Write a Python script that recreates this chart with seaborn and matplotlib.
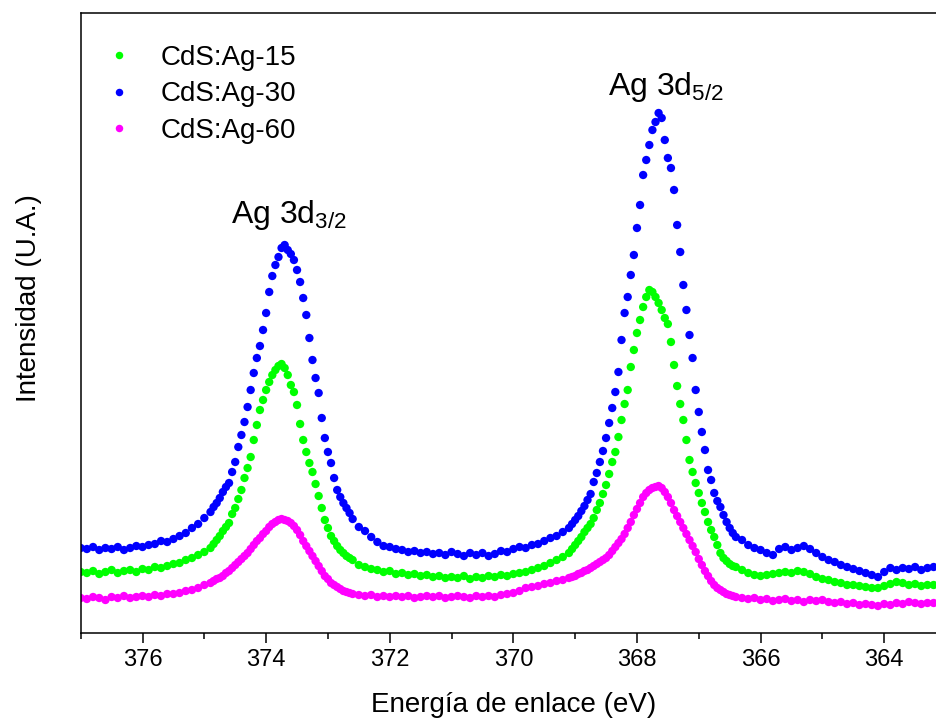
import numpy as np
import pandas as pd
import matplotlib
matplotlib.use("Agg")
import matplotlib.pyplot as plt
import seaborn as sns

# Binding energy grid (eV): coarser in flat regions, finer across the peaks
energy = np.round(np.concatenate([
    np.arange(377.0, 374.85, -0.1),
    np.arange(374.85, 372.625, -0.05),
    np.arange(372.6, 369.05, -0.1),
    np.arange(369.05, 366.425, -0.05),
    np.arange(366.4, 363.15, -0.1),
]), 2)

ag15 = [61, 60, 62, 59, 61, 63, 60, 62, 63, 61, 64, 63, 66, 65, 67, 69, 70, 73, 75, 78, 81, 85,
        89, 93, 97, 102, 106, 110, 119, 125, 134, 143, 155, 165, 176, 193, 208, 223, 233, 243, 251, 258,
        263, 267, 269, 265, 258, 248, 241, 228, 209, 193, 181, 170, 161, 149, 137, 125, 113, 105, 97, 92,
        87, 83, 80, 77, 75,
        73, 68, 66, 64, 63, 61, 62, 59, 60, 58, 59, 57, 58, 56, 57, 55, 56, 55, 57, 54, 56, 55, 57, 56,
        58, 57, 59, 60, 61, 63, 65, 67, 70, 73, 76, 80,
        84, 88, 92, 96, 101, 105, 109, 115, 123, 130, 139, 148, 159, 171, 181, 196, 213, 229, 243, 266,
        283, 300, 313, 326, 336, 343, 341, 336, 330, 323, 315, 309, 291, 268, 247, 229, 213, 193, 173, 161,
        150, 140, 130, 121, 111, 103, 96, 88, 80, 75, 72, 69, 67,
        66, 63, 60, 58, 57, 58, 59, 60, 61, 60, 62, 61, 59, 56, 54, 53, 51, 50, 48, 48, 47, 46, 45, 45,
        47, 49, 51, 50, 48, 49, 47, 48, 48]

ag30 = [85, 84, 86, 83, 85, 84, 86, 83, 85, 87, 86, 88, 89, 92, 91, 94, 97, 100, 105, 109, 115, 121,
        126, 130, 135, 141, 146, 150, 161, 171, 186, 198, 211, 226, 243, 260, 275, 287, 303, 320, 341, 357,
        368, 376, 385, 388, 383, 379, 373, 363, 351, 335, 318, 295, 273, 255, 240, 215, 195, 181, 170, 155,
        143, 136, 130, 125, 120,
        114, 106, 102, 96, 91, 87, 86, 84, 83, 81, 82, 80, 81, 79, 80, 78, 81, 79, 77, 80, 78, 80, 77, 79,
        82, 81, 84, 86, 85, 88, 89, 92, 95, 97, 101, 105,
        109, 113, 117, 122, 127, 133, 139, 151, 160, 171, 182, 195, 210, 225, 241, 261, 293, 320, 336, 358,
        378, 405, 428, 458, 473, 488, 503, 511, 520, 515, 493, 475, 465, 443, 408, 381, 348, 323, 298, 275,
        243, 221, 201, 183, 163, 153, 140, 132, 126, 118, 111, 105, 100,
        96, 93, 88, 85, 83, 80, 78, 84, 86, 83, 85, 87, 84, 80, 76, 73, 71, 68, 66, 64, 62, 60, 58, 56,
        61, 65, 63, 65, 64, 66, 63, 65, 66]

ag60 = [35, 34, 36, 35, 33, 36, 35, 37, 35, 36, 37, 36, 38, 37, 39, 39, 40, 42, 43, 45, 48, 50,
        52, 54, 55, 57, 60, 62, 65, 68, 71, 74, 77, 80, 84, 88, 92, 95, 99, 102, 106, 109,
        111, 113, 114, 113, 112, 110, 107, 103, 98, 92, 87, 82, 77, 72, 67, 62, 57, 54, 50, 48,
        46, 44, 42, 41, 40,
        39, 38, 37, 38, 36, 37, 36, 37, 36, 37, 35, 36, 37, 36, 37, 35, 36, 37, 36, 35, 37, 36, 37, 36,
        38, 39, 40, 42, 45, 46, 47, 49, 50, 52, 53, 55,
        56, 57, 59, 60, 62, 63, 65, 67, 69, 71, 73, 75, 78, 82, 86, 90, 94, 99, 105, 111,
        118, 124, 130, 136, 140, 143, 145, 146, 147, 145, 141, 136, 130, 123, 117, 111, 105, 99, 93, 87,
        81, 74, 68, 62, 57, 52, 48, 45, 43, 41, 39, 38, 37,
        36, 35, 34, 35, 33, 34, 32, 33, 34, 32, 33, 31, 33, 32, 33, 31, 30, 31, 29, 30, 28, 29, 28, 27,
        29, 28, 30, 29, 31, 30, 29, 30, 30]

labels = ["CdS:Ag-15", "CdS:Ag-30", "CdS:Ag-60"]
colors = ["#00ff00", "#0000ff", "#ff00ff"]

assert len(energy) == len(ag15) == len(ag30) == len(ag60)

df = pd.concat([
    pd.DataFrame({"energy": energy, "intensity": vals, "sample": lab})
    for vals, lab in zip([ag15, ag30, ag60], labels)
], ignore_index=True)

sns.set_style("white")
plt.rcParams["font.family"] = ["Liberation Sans", "DejaVu Sans"]
plt.rcParams["mathtext.fontset"] = "custom"
plt.rcParams["mathtext.rm"] = "Liberation Sans"
plt.rcParams["mathtext.it"] = "Liberation Sans:italic"
plt.rcParams["text.color"] = "black"
plt.rcParams["axes.labelcolor"] = "black"
plt.rcParams["xtick.color"] = "black"
plt.rcParams["ytick.color"] = "black"

fig = plt.figure(figsize=(9.36, 7.21), dpi=100)
W, H = 936, 721
left_px, right_px, top_px, bot_px = 80.7, 946.0, 13.0, 633.0
ax_w = right_px - left_px
ax_h = bot_px - top_px
ax = fig.add_axes([left_px / W, 1 - bot_px / H, ax_w / W, ax_h / H])

sns.scatterplot(data=df, x="energy", y="intensity", hue="sample",
                palette=dict(zip(labels, colors)), s=36, linewidth=0,
                ax=ax, legend=True)

ax.set_xlim(377, 363)
ax.set_ylim(0, 620)
ax.set_xticks([376, 374, 372, 370, 368, 366, 364])
ax.set_xticks(np.arange(377, 363, -1), minor=True)
ax.set_yticks([])
ax.tick_params(axis="x", which="major", direction="out", length=7.2, width=1.1,
               labelsize=17, pad=4, bottom=True)
ax.tick_params(axis="x", which="minor", direction="out", length=4.3, width=1.1, bottom=True)
for side in ["left", "bottom", "top", "right"]:
    ax.spines[side].set_linewidth(1.1)
    ax.spines[side].set_color("black")

ax.set_xlabel("Energía de enlace (eV)", fontsize=20)
ax.set_ylabel("Intensidad (U.A.)", fontsize=20)
ax.xaxis.set_label_coords(0.5, -0.095)
ax.yaxis.set_label_coords(-0.045, 0.54)

ax.text(374.57, 410, r"Ag 3d$_\mathregular{3/2}$", fontsize=23, ha="left", va="baseline")
ax.text(368.47, 538, r"Ag 3d$_\mathregular{5/2}$", fontsize=23, ha="left", va="baseline")

handles, labs = ax.get_legend_handles_labels()
leg = ax.legend(handles, labs, loc="upper left",
                bbox_to_anchor=((105 - left_px) / ax_w, 1 - 32 / ax_h),
                frameon=False, fontsize=20, handlelength=1.0, handletextpad=1.0,
                labelspacing=0.37, borderpad=0, borderaxespad=0, markerscale=0.9)

fig.savefig("out.png", dpi=100)
